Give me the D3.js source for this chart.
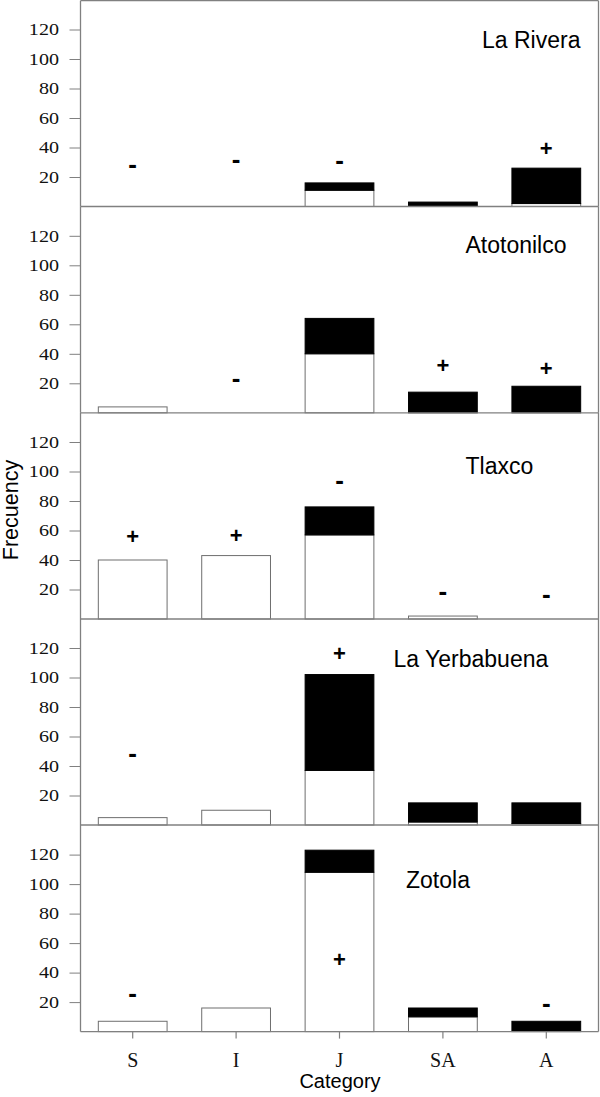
<!DOCTYPE html>
<html>
<head>
<meta charset="utf-8">
<script src="https://cdn.jsdelivr.net/npm/d3@7"></script>
<style>
  html, body { margin: 0; padding: 0; background: #fff; }
  svg { display: block; }
</style>
</head>
<body>
<svg id="chart" width="600" height="1097"></svg>
<script>
// ---------------- DATA ----------------
const categories = ["S", "I", "J", "SA", "A"];
const sites = ["La Rivera", "Atotonilco", "Tlaxco", "La Yerbabuena", "Zotola"];
const yTicks = [20, 40, 60, 80, 100, 120];

// white (lower) part of each bar, per site
const whiteRivera      = [0, 0, 11, 0, 2];
const whiteAtotonilco  = [4, 0, 40, 0, 0];
const whiteTlaxco      = [40, 43, 57, 2, 0];
const whiteYerbabuena  = [5, 10, 37, 2, 1];
const whiteZotola      = [7, 16, 108, 10, 0];

// black (upper) part of each bar, per site
const blackRivera      = [0, 0, 5, 3, 24];
const blackAtotonilco  = [0, 0, 24, 14, 18];
const blackTlaxco      = [0, 0, 19, 0, 0];
const blackYerbabuena  = [0, 0, 65, 13, 14];
const blackZotola      = [0, 0, 15, 6, 7];

// significance signs per category ("" = none) and the value level they sit at
const signRivera       = ["-", "-", "-", "", "+"];
const signAtotonilco   = ["", "-", "", "+", "+"];
const signTlaxco       = ["+", "+", "-", "-", "-"];
const signYerbabuena   = ["-", "", "+", "", ""];
const signZotola       = ["-", "", "+", "", "-"];

const signLevelRivera      = [27.7, 31.5, 30.3, 0, 39.3];
const signLevelAtotonilco  = [0, 22.5, 0, 32.2, 30];
const signLevelTlaxco      = [56.3, 56.7, 93.2, 18.2, 15.9];
const signLevelYerbabuena  = [47.5, 0, 116.2, 0, 0];
const signLevelZotola      = [25.2, 0, 48.9, 0, 18.4];

const whites = [whiteRivera, whiteAtotonilco, whiteTlaxco, whiteYerbabuena, whiteZotola];
const blacks = [blackRivera, blackAtotonilco, blackTlaxco, blackYerbabuena, blackZotola];
const signs  = [signRivera, signAtotonilco, signTlaxco, signYerbabuena, signZotola];
const signLevels = [signLevelRivera, signLevelAtotonilco, signLevelTlaxco, signLevelYerbabuena, signLevelZotola];

// ---------------- LAYOUT ----------------
const frameLeft = 80.5, frameRight = 598.5;
const panelZero = [206.5, 412.8, 619, 825, 1031.6];
const panelTopFirst = 0.7;
const panelPx = 206.5;           // pixel height of domain [0,140]
const titlePos = [
  {x: 482, y: 47.7}, {x: 465.5, y: 253.3}, {x: 465.5, y: 474.3},
  {x: 393.5, y: 667.3}, {x: 406, y: 888.3}
];
const frameColor = "#808080";
const sans = "Liberation Sans, Arial, sans-serif";
const serif = "Liberation Serif, Times New Roman, Times, serif";
const tickStretch = 1.22;        // tick labels in the reference are horizontally stretched

const svg = d3.select("#chart");

const x = d3.scaleBand()
  .domain(categories)
  .range([81, 598])
  .paddingInner(0.335)
  .paddingOuter(0.1675);

sites.forEach((site, p) => {
  const zero = panelZero[p];
  const y = d3.scaleLinear().domain([0, 140]).range([zero, zero - panelPx]);
  const top = p === 0 ? panelTopFirst : panelZero[p - 1];
  const g = svg.append("g");

  // bars
  const rows = categories.map((c, i) => ({c, w: whites[p][i], b: blacks[p][i]}));
  g.selectAll("rect.white").data(rows.filter(d => d.w > 0)).join("rect")
    .attr("x", d => x(d.c)).attr("width", x.bandwidth())
    .attr("y", d => y(d.w)).attr("height", d => y(0) - y(d.w))
    .attr("fill", "#fff").attr("stroke", "#6e6e6e").attr("stroke-width", 1);
  g.selectAll("rect.black").data(rows.filter(d => d.b > 0)).join("rect")
    .attr("x", d => x(d.c)).attr("width", x.bandwidth())
    .attr("y", d => y(d.w + d.b)).attr("height", d => y(d.w) - y(d.w + d.b))
    .attr("fill", "#000").attr("stroke", "#000").attr("stroke-width", 1);

  // frame
  g.append("line").attr("x1", frameLeft).attr("x2", frameLeft).attr("y1", top).attr("y2", zero)
    .attr("stroke", frameColor).attr("stroke-width", 1.3);
  g.append("line").attr("x1", frameRight).attr("x2", frameRight).attr("y1", top).attr("y2", zero)
    .attr("stroke", frameColor).attr("stroke-width", 1.3);
  g.append("line").attr("x1", frameLeft).attr("x2", frameRight).attr("y1", zero).attr("y2", zero)
    .attr("stroke", frameColor).attr("stroke-width", 1.3);
  if (p === 0) {
    g.append("line").attr("x1", frameLeft).attr("x2", frameRight).attr("y1", top).attr("y2", top)
      .attr("stroke", frameColor).attr("stroke-width", 1.3);
  }

  // y axis
  const ya = g.append("g").attr("transform", `translate(${frameLeft},0)`);
  ya.call(d3.axisLeft(y).tickValues(yTicks).tickSize(11).tickPadding(10).tickFormat(d3.format("d")));
  ya.attr("font-family", serif).attr("font-size", 16.5);
  ya.select(".domain").remove();
  ya.selectAll(".tick line").attr("stroke", frameColor).attr("stroke-width", 1);
  ya.selectAll(".tick text")
    .attr("x", -21.5 / tickStretch)
    .attr("transform", `scale(${tickStretch},1)`)
    .attr("font-family", serif).attr("font-size", 16.5).attr("fill", "#111");

  // signs
  const sgn = categories.map((c, i) => ({c, s: signs[p][i], v: signLevels[p][i]})).filter(d => d.s);
  g.selectAll("text.sign").data(sgn).join("text")
    .attr("x", d => x(d.c) + x.bandwidth() / 2)
    .attr("y", d => y(d.v))
    .attr("dy", d => d.s === "+" ? "0.35em" : "0.29em")
    .attr("text-anchor", "middle")
    .attr("font-family", sans).attr("font-weight", "bold")
    .attr("font-size", d => d.s === "+" ? 22 : 26)
    .text(d => d.s);

  // title
  g.append("text").attr("x", titlePos[p].x).attr("y", titlePos[p].y)
    .attr("font-family", sans).attr("font-size", 23).attr("fill", "#000")
    .text(site);

  // x axis on bottom panel
  if (p === sites.length - 1) {
    const xa = g.append("g").attr("transform", `translate(0,${zero})`);
    xa.call(d3.axisBottom(x).tickSize(7).tickPadding(14.5));
    xa.attr("font-family", serif).attr("font-size", 20);
    xa.select(".domain").remove();
    xa.selectAll(".tick line").attr("stroke", frameColor).attr("stroke-width", 1.2);
    xa.selectAll(".tick text").attr("fill", "#111");
  }
});

// axis titles
svg.append("text")
  .attr("transform", "translate(17.5,510) rotate(-90)")
  .attr("text-anchor", "middle")
  .attr("font-family", sans).attr("font-size", 21.5)
  .text("Frecuency");

svg.append("text")
  .attr("x", 340).attr("y", 1088)
  .attr("text-anchor", "middle")
  .attr("font-family", sans).attr("font-size", 20)
  .text("Category");
</script>
</body>
</html>
